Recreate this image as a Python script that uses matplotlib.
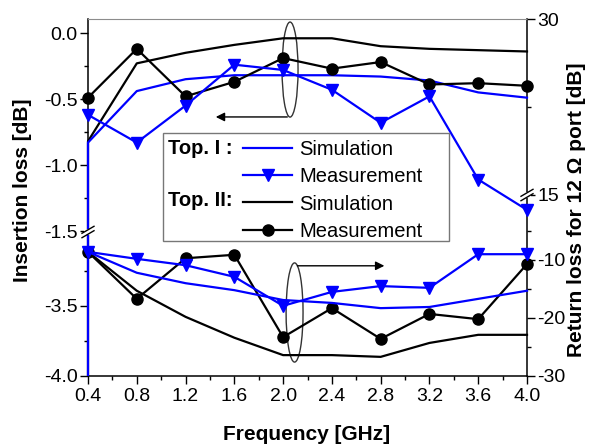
import matplotlib.pyplot as plt
from matplotlib.lines import Line2D
from matplotlib.patches import Ellipse, Rectangle

plt.rcParams["font.family"] = ["Liberation Sans", "DejaVu Sans"]
plt.rcParams["axes.unicode_minus"] = False

# measured points (GHz)
FREQ = [0.4, 0.8, 1.2, 1.6, 2.0, 2.4, 2.8, 3.2, 3.6, 4.0]
# simulated insertion loss drops steeply right at 0.4 GHz -> extra leading point
SIM_FREQ = [0.4] + FREQ

IL_SIM_I = [-4.0, -0.83, -0.44, -0.35, -0.32, -0.32, -0.32, -0.33, -0.36, -0.45, -0.49]
IL_MEAS_I = [-0.62, -0.83, -0.55, -0.24, -0.28, -0.43, -0.68, -0.48, -1.11, -1.34]
IL_SIM_II = [-4.0, -0.82, -0.23, -0.15, -0.09, -0.04, -0.04, -0.10, -0.12, -0.13, -0.14]
IL_MEAS_II = [-0.49, -0.12, -0.48, -0.37, -0.19, -0.27, -0.22, -0.39, -0.38, -0.40]

RL_SIM_I = [-8.6, -12.2, -14.0, -15.2, -16.9, -17.4, -18.3, -18.1, -16.7, -15.3]
RL_MEAS_I = [-8.6, -9.8, -10.9, -12.9, -17.9, -15.5, -14.5, -14.8, -9.0, -9.0]
RL_SIM_II = [-8.6, -15.3, -19.8, -23.4, -26.4, -26.4, -26.7, -24.3, -22.9, -22.9]
RL_MEAS_II = [-8.6, -16.7, -9.7, -9.1, -23.3, -18.3, -23.6, -19.3, -20.2, -10.7]

BLUE = "#0000ff"
W, H = 590, 447
L, R, T, B = 88, 527, 19, 376
TICK_FS = 14
LABEL_FS = 15
LEG_FS = 14.5
LW = 1.6


def box(top, bottom):
    return [L / W, 1 - bottom / H, (R - L) / W, (bottom - top) / H]


def overlay(top, bottom, ylim, major, minor, side):
    a = fig.add_axes(box(top, bottom))
    a.patch.set_visible(False)
    for s in a.spines.values():
        s.set_visible(False)
    a.set_xlim(0.4, 4.0)
    a.xaxis.set_visible(False)
    a.set_ylim(*ylim)
    a.set_yticks(major)
    a.set_yticks(minor, minor=True)
    if side == "right":
        a.yaxis.tick_right()
    a.tick_params(axis="y", which="major", direction="out", length=5.5, width=1,
                  labelsize=TICK_FS, pad=2)
    a.tick_params(axis="y", which="minor", direction="out", length=3, width=1)
    return a


def sim_line(a, y, color):
    # clip a little wider than the axes so the edge segment at 0.4 GHz stays whole
    ln, = a.plot(SIM_FREQ, y, color=color, lw=LW)
    clip = Rectangle((-0.01, 0), 1.02, 1, transform=a.transAxes, visible=False)
    a.add_patch(clip)
    ln.set_clip_path(clip)


fig = plt.figure(figsize=(W / 100, H / 100), dpi=100)

ax = fig.add_axes(box(T, B))
ax.set_xlim(0.4, 4.0)
ax.set_yticks([])
ax.set_xticks(FREQ)
ax.set_xticks([0.6, 1.0, 1.4, 1.8, 2.2, 2.6, 3.0, 3.4, 3.8], minor=True)
ax.xaxis.set_major_formatter(plt.FormatStrFormatter("%.1f"))
ax.tick_params(axis="x", which="major", direction="out", length=5.5, width=1,
               labelsize=TICK_FS, pad=3)
ax.tick_params(axis="x", which="minor", direction="out", length=3, width=1)
ax.spines["top"].set_color("#8c8c8c")
for s in ("left", "right", "bottom"):
    ax.spines[s].set_linewidth(1.1)

il_top = overlay(T, 232, ((33 - 232) / 132, (33 - T) / 132),
                 [-1.5, -1.0, -0.5, 0.0], [-1.25, -0.75, -0.25], "left")
il_bot = overlay(232, B, (-4.0, -4.0 + (B - 232) / 140),
                 [-4.0, -3.5], [-3.75, -3.25], "left")
rl_top = overlay(T, 195, (15, 30), [15, 30], [22.5], "right")
rl_bot = overlay(195, B, (-30, -30 + (B - 195) / 5.8),
                 [-30, -20, -10], [-25, -15, -5], "right")

# insertion loss (left axis, both segments)
for a in (il_top, il_bot):
    sim_line(a, IL_SIM_II, "k")
    sim_line(a, IL_SIM_I, BLUE)
il_top.plot(FREQ, IL_MEAS_II, color="k", marker="o", ms=8, lw=LW, clip_on=False)
il_top.plot(FREQ, IL_MEAS_I, color=BLUE, marker="v", ms=9, lw=LW, clip_on=False)

# return loss (right axis, lower segment)
rl_bot.plot(FREQ, RL_SIM_II, color="k", lw=LW, clip_on=False)
rl_bot.plot(FREQ, RL_MEAS_II, color="k", marker="o", ms=8, lw=LW, clip_on=False)
rl_bot.plot(FREQ, RL_SIM_I, color=BLUE, lw=LW, clip_on=False)
rl_bot.plot(FREQ, RL_MEAS_I, color=BLUE, marker="v", ms=9, lw=LW, clip_on=False)

# ellipses with arrows pointing to the matching axis
il_top.add_patch(Ellipse((2.057, -0.277), 0.131, 0.72, fill=False, ec="#333333", lw=1))
il_top.annotate("", xy=(1.425, -0.636), xytext=(2.057, -0.636),
                arrowprops=dict(arrowstyle="-|>", color="k", lw=1, mutation_scale=13))
rl_bot.add_patch(Ellipse((2.094, -19.05), 0.139, 17.1, fill=False, ec="#333333", lw=1))
rl_bot.annotate("", xy=(2.853, -11.0), xytext=(2.094, -11.0),
                arrowprops=dict(arrowstyle="-|>", color="k", lw=1, mutation_scale=13))

# axis break marks
for xa, ypx in ((0.0, 232), (1.0, 195)):
    ya = (B - ypx) / (B - T)
    dx, dy, g = 6 / (R - L), 3.5 / (B - T), 2.2 / (B - T)
    fig.add_artist(Line2D([xa - dx * 0.6, xa + dx * 0.6], [ya, ya], color="white", lw=4,
                          transform=ax.transAxes, solid_capstyle="butt"))
    for s in (-g, g):
        fig.add_artist(Line2D([xa - dx, xa + dx], [ya + s - dy, ya + s + dy], color="k",
                              lw=1, transform=ax.transAxes))

# legend
fig.add_artist(Rectangle((163 / W, 1 - 241 / H), 286 / W, 108 / H, transform=fig.transFigure,
                         facecolor="white", edgecolor="#777777", lw=1))
handles = [
    Line2D([], [], color=BLUE, lw=LW),
    Line2D([], [], color=BLUE, lw=LW, marker="v", ms=9),
    Line2D([], [], color="k", lw=LW),
    Line2D([], [], color="k", lw=LW, marker="o", ms=8),
]
fig.legend(handles, ["Simulation", "Measurement", "Simulation", "Measurement"],
           loc="upper left", bbox_to_anchor=(243 / W, 1 - 140 / H), frameon=False,
           borderpad=0, borderaxespad=0, handlelength=2.45, handletextpad=0.33,
           labelspacing=0.41, fontsize=LEG_FS)
fig.text(168 / W, 1 - 149 / H, "Top. I :", fontsize=LEG_FS, fontweight="bold", va="center")
fig.text(168 / W, 1 - 200 / H, "Top. II:", fontsize=LEG_FS, fontweight="bold", va="center")

fig.text(23 / W, 1 - 190 / H, "Insertion loss [dB]", rotation=90, fontsize=LABEL_FS,
         fontweight="bold", ha="center", va="center")
fig.text(577 / W, 1 - 210 / H, "Return loss for 12 \u03a9 port [dB]", rotation=90,
         fontsize=LABEL_FS, fontweight="bold", ha="center", va="center")
fig.text(307 / W, 1 - 434 / H, "Frequency [GHz]", fontsize=LABEL_FS, fontweight="bold",
         ha="center", va="center")

fig.savefig("out.png", dpi=100)
